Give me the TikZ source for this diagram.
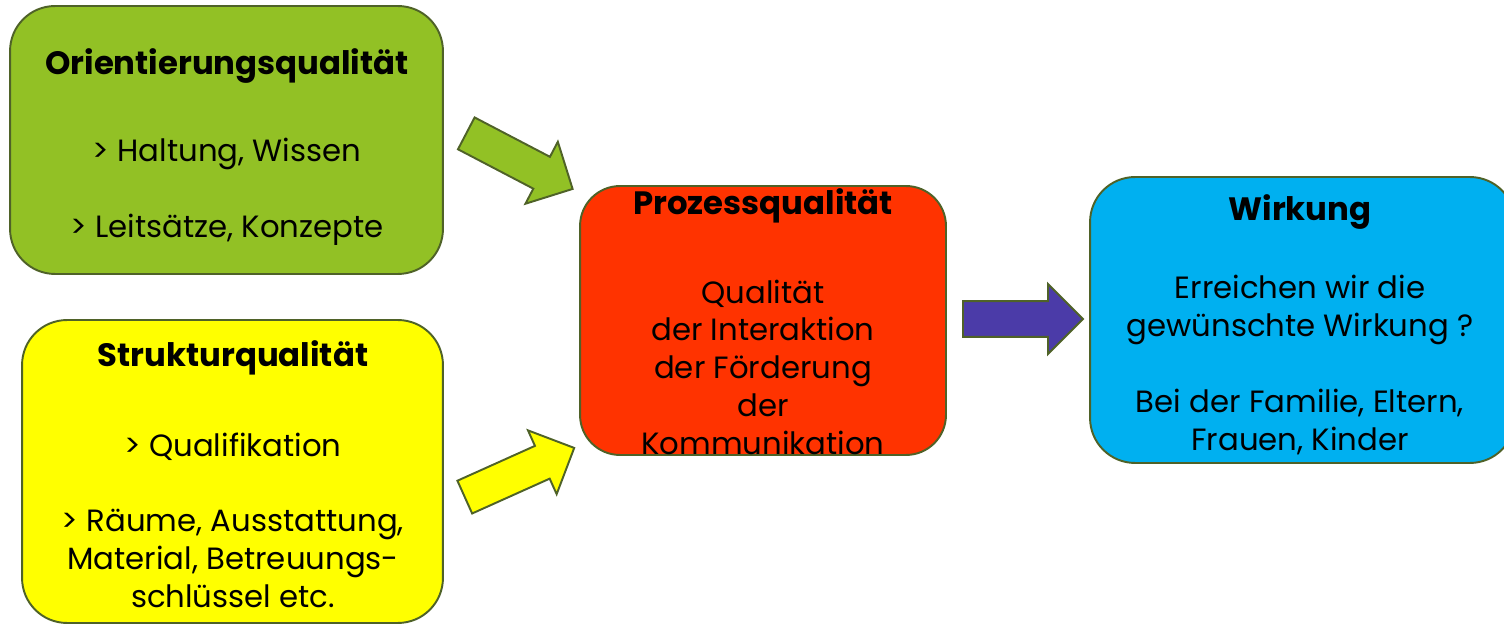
\documentclass[tikz,border=0pt]{standalone}
\usepackage{fontspec}
\setmainfont{Poppins}
\usetikzlibrary{shapes.arrows,positioning}
\definecolor{olivedark}{HTML}{4F6228}
\definecolor{orientgreen}{HTML}{92C125}
\definecolor{strukyellow}{HTML}{FFFF00}
\definecolor{prozred}{HTML}{FF3300}
\definecolor{wirkblue}{HTML}{00B0F0}
\definecolor{pilpurple}{HTML}{4B3BA8}
\tikzset{
    %Define style for boxes
    qbox/.style={
           rectangle,
           rounded corners=0.9cm,
           draw=olivedark,
           line width=1.1pt},
    titletext/.style={
           font=\bfseries\fontsize{18.4}{22}\selectfont,
           inner sep=0pt},
    bodytext/.style={
           align=center,
           inner sep=0pt,
           font=\fontsize{17.5}{21.5}\selectfont},
    % Define arrow style
    blockpil/.style={
           single arrow,
           draw=olivedark,
           line width=1.1pt,
           inner xsep=0pt,
           inner ysep=0.34cm,
           single arrow head extend=0.34cm,
           minimum height=2.4cm}
}
\begin{document}
\begin{tikzpicture}[x=0.02cm,y=-0.02cm]
\useasboundingbox (0,0) rectangle (1504,624);
\clip (0,0) rectangle (1504,624);
% boxes
\node[qbox, fill=orientgreen, minimum width=8.66cm, minimum height=5.36cm] (orient) at (226.5,140) {};
\node[qbox, fill=strukyellow, minimum width=8.42cm, minimum height=6.06cm] (struk) at (232.5,471.5) {};
\node[qbox, fill=prozred, minimum width=7.32cm, minimum height=5.38cm, rounded corners=0.8cm] (proz) at (763,320.5) {};
\node[qbox, fill=wirkblue, minimum width=8.5cm, minimum height=5.72cm] (wirk) at (1302.5,320) {};
% block arrows
\node[blockpil, fill=orientgreen, rotate=-27.6] (pilorient) at (511.5,157) {};
\node[blockpil, fill=strukyellow, rotate=24.2] (pilstruk) at (511.3,476.2) {};
\node[blockpil, fill=pilpurple] (pilproz) at (1014,319) {};
% texts
\node[titletext] (orienttitle) at (227,66) {Orientierungsqualität};
\node[bodytext] (orientbody) at (227,192) {> Haltung, Wissen\\[21.5pt]> Leitsätze, Konzepte};
\node[titletext] (struktitle) at (233,358) {Strukturqualität};
\node[bodytext] (strukbody) at (233,520) {> Qualifikation\\[21.5pt]> Räume, Ausstattung,\\Material, Betreuungs-\\schlüssel etc.};
\node[titletext] (proztitle) at (763,206) {Prozessqualität};
\node[bodytext] (prozbody) at (763,367) {Qualität\\der Interaktion\\der Förderung\\der\\Kommunikation};
\node[titletext] (wirktitle) at (1300,212) {Wirkung};
\node[bodytext] (wirkbody) at (1300,365) {Erreichen wir die\\gewünschte Wirkung ?\\[21.5pt]Bei der Familie, Eltern,\\Frauen, Kinder};
\end{tikzpicture}
\end{document}
